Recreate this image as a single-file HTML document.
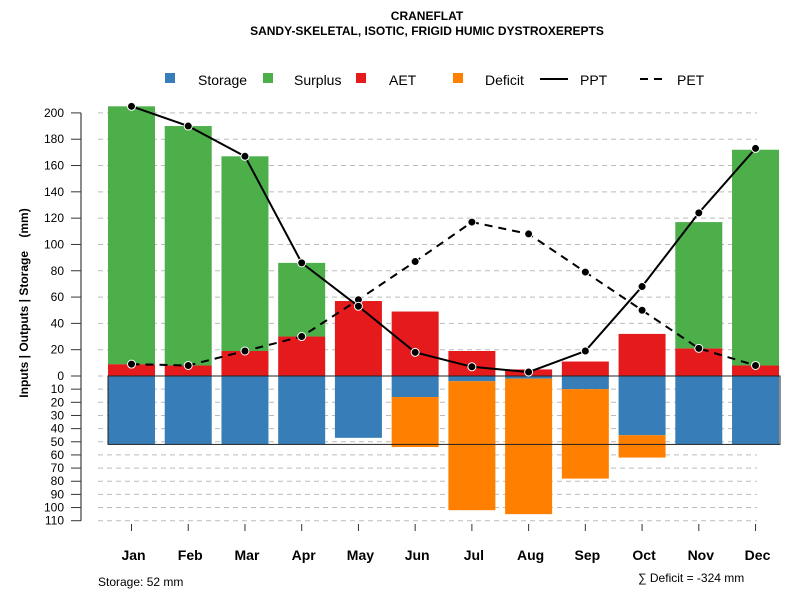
<!DOCTYPE html>
<html><head><meta charset="utf-8"><style>
body{margin:0;background:#fff;}
svg text{font-family:"Liberation Sans",sans-serif;}
</style></head><body>
<svg id="chart" width="800" height="600" xmlns="http://www.w3.org/2000/svg">
<text x="427" y="20" text-anchor="middle" font-size="12" font-weight="bold">CRANEFLAT</text>
<text x="427" y="35" text-anchor="middle" font-size="12" font-weight="bold">SANDY-SKELETAL, ISOTIC, FRIGID HUMIC DYSTROXEREPTS</text>
<g id="legend" font-size="14">
<rect x="165" y="73" width="10" height="10" fill="#377eb8"/>
<text x="198" y="85">Storage</text>
<rect x="263" y="73" width="10" height="10" fill="#4daf4a"/>
<text x="294" y="85">Surplus</text>
<rect x="356" y="73" width="10" height="10" fill="#e41a1c"/>
<text x="389" y="85">AET</text>
<rect x="453" y="73" width="10" height="10" fill="#ff7f00"/>
<text x="485" y="85">Deficit</text>
<line x1="540" y1="79" x2="568" y2="79" stroke="#000" stroke-width="2"/>
<text x="580" y="85">PPT</text>
<line x1="640" y1="79" x2="668" y2="79" stroke="#000" stroke-width="2" stroke-dasharray="8,6"/>
<text x="677" y="85">PET</text>
</g>
<text transform="translate(28,303) rotate(-90)" text-anchor="middle" font-size="12" font-weight="bold" xml:space="preserve" style="white-space:pre">Inputs | Outputs | Storage    (mm)</text>
<g id="grid"></g><g id="bars"></g><g id="lines"></g><g id="axes"></g>
<text x="98" y="586" font-size="12">Storage: 52 mm</text>
<text x="638" y="582" font-size="12">∑ Deficit = -324 mm</text>
</svg>
<script>
const months=["Jan","Feb","Mar","Apr","May","Jun","Jul","Aug","Sep","Oct","Nov","Dec"];
const ppt=[205,190,167,86,53,18,7,3,19,68,124,173];
const pet=[9,8,19,30,58,87,117,108,79,50,21,8];
const aet=[9,8,19,30,57,49,19,5,11,32,21,8];
const surplus=[196,182,148,56,0,0,0,0,0,0,96,164];
const storage=[52,52,52,52,47,16,4,2,10,45,52,52];
const deficit=[0,0,0,0,0,38,98,103,68,17,0,0];
const posTicks=[0,20,40,60,80,100,120,140,160,180,200];
const negTicks=[10,20,30,40,50,60,70,80,90,100,110];
const capacity=52;
const NS="http://www.w3.org/2000/svg";
const y0=376,k=1.3155;
const yPos=v=>y0-v*k, yNeg=v=>y0+v*k;
const xC=i=>131.5+i*56.73;
const bw=47;
function mk(t,a,p){const e=document.createElementNS(NS,t);for(const q in a)e.setAttribute(q,a[q]);p.appendChild(e);return e;}
const grid=document.getElementById('grid'),bars=document.getElementById('bars'),lines=document.getElementById('lines'),axes=document.getElementById('axes');
mk('line',{x1:81,y1:yPos(200),x2:81,y2:yNeg(110),stroke:'#666','stroke-width':1.5},axes);
posTicks.forEach(v=>{const y=yPos(v);
 const g=mk('line',{x1:98,y1:y,x2:757,y2:y,stroke:'#bbb','stroke-dasharray':'5,4'},grid);
 
 
 mk('line',{x1:71,y1:y,x2:81,y2:y,stroke:'#333'},axes);
 const t=mk('text',{x:64,y:y+4,'text-anchor':'end','font-size':12},axes);t.textContent=v;
 
 
});
negTicks.forEach(v=>{const y=yNeg(v);
 const g=mk('line',{x1:98,y1:y,x2:757,y2:y,stroke:'#bbb','stroke-dasharray':'5,4'},grid);
 
 
 mk('line',{x1:71,y1:y,x2:81,y2:y,stroke:'#333'},axes);
 const t=mk('text',{x:64,y:y+4,'text-anchor':'end','font-size':12},axes);t.textContent=v;
 
 
});
months.forEach((m,i)=>{const x=xC(i),l=x-bw/2;
 let r;
 r=mk('rect',{x:l,y:yPos(aet[i]),width:bw,height:aet[i]*k,fill:'#e41a1c'},bars);
 
 
 if(surplus[i]>0){r=mk('rect',{x:l,y:yPos(aet[i]+surplus[i]),width:bw,height:surplus[i]*k,fill:'#4daf4a'},bars);
 
 }
 r=mk('rect',{x:l,y:y0,width:bw,height:storage[i]*k,fill:'#377eb8'},bars);
 
 
 if(deficit[i]>0){r=mk('rect',{x:l,y:yNeg(storage[i]),width:bw,height:deficit[i]*k,fill:'#ff7f00'},bars);
 
 }
 mk('line',{x1:x,y1:524,x2:x,y2:531,stroke:'#333'},axes);
 const t=mk('text',{x:x+2,y:560,'text-anchor':'middle','font-size':14,'font-weight':'bold'},axes);t.textContent=m;
 
 
});
const box=mk('rect',{x:108,y:y0,width:672,height:capacity*k,fill:'none',stroke:'#222','stroke-width':1},bars);


function series(arr,dash,name){
 const p=mk('polyline',{points:arr.map((v,i)=>xC(i)+','+yPos(v)).join(' '),fill:'none',stroke:'#000','stroke-width':2,'stroke-dasharray':dash},lines);
 
 
 arr.forEach((v,i)=>{const c=mk('circle',{cx:xC(i),cy:yPos(v),r:4,fill:'#000',stroke:'#fff','stroke-width':1},lines);
 
 });
}
series(pet,'8,6','pet');
series(ppt,'none','ppt');
</script>
</body></html>
